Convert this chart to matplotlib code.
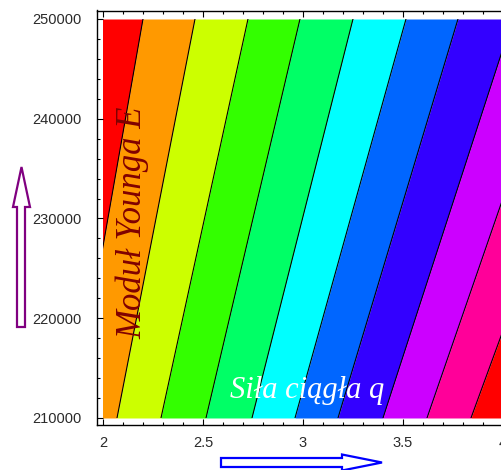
import matplotlib
matplotlib.use('Agg')
import matplotlib.pyplot as plt
from matplotlib.patches import Rectangle, Polygon
from matplotlib.ticker import MultipleLocator

# obszar danych: sila ciagla q (os x), modul Younga E (os y)
E_range = [210000, 250000]
q_range = [2.0, 4.0]

# polozenie poziomic (q) na dolnej krawedzi (E=210000) i gornej (E=250000)
q_at_bottom = [1.849, 2.07, 2.29, 2.515, 2.745, 2.96, 3.175, 3.40, 3.62, 3.84]
q_at_top = [2.20, 2.46, 2.725, 2.985, 3.25, 3.515, 3.775, 4.048, 4.31, 4.571]

band_colors = ['#FF0000', '#FF9900', '#CCFF00', '#33FF00', '#00FF66', '#00FFFF',
               '#0066FF', '#3300FF', '#CC00FF', '#FF0099', '#FF0000']

x_ticks = [2, 2.5, 3, 3.5, 4]
x_labels = ['2', '2.5', '3', '3.5', '4']
y_ticks = [210000, 220000, 230000, 240000, 250000]
y_labels = ['210000', '220000', '230000', '240000', '250000']

W, H = 501, 470
fig = plt.figure(figsize=(W / 100, H / 100), dpi=100)

def fx(x):
    return x / W

def fy(y):
    return 1 - y / H

ax = fig.add_axes([fx(97), fy(425), (509 - 97) / W, (425 - 10.5) / H])
ax.set_xlim(1.97, 4.03)
ax.set_ylim(209298, 250852)

clip = Rectangle((q_range[0], E_range[0]), q_range[1] - q_range[0],
                 E_range[1] - E_range[0], transform=ax.transData)

# pasy miedzy poziomicami
lefts_b = [1.0] + q_at_bottom
lefts_t = [1.0] + q_at_top
rights_b = q_at_bottom + [5.0]
rights_t = q_at_top + [5.0]
for i, c in enumerate(band_colors):
    pc = ax.fill_betweenx(E_range, [lefts_b[i], lefts_t[i]], [rights_b[i], rights_t[i]],
                          color=c, lw=0)
    pc.set_clip_path(clip)

# poziomice
for qb, qt in zip(q_at_bottom, q_at_top):
    ln, = ax.plot([qb, qt], E_range, color='black', lw=0.8)
    ln.set_clip_path(clip)

ax.set_xticks(x_ticks)
ax.set_xticklabels(x_labels)
ax.set_yticks(y_ticks)
ax.set_yticklabels(y_labels)
ax.xaxis.set_minor_locator(MultipleLocator(0.1))
ax.yaxis.set_minor_locator(MultipleLocator(2000))
ax.tick_params(which='both', direction='in', top=True, right=True, width=0.8,
               labelsize=10.5, labelcolor='#2a2a2a')
ax.tick_params(which='major', length=4.5)
ax.tick_params(which='minor', length=2.5)
ax.tick_params(axis='x', pad=8)
ax.tick_params(axis='y', pad=11)
for lab in ax.get_xticklabels() + ax.get_yticklabels():
    lab.set_family('Liberation Sans')
for s in ax.spines.values():
    s.set_linewidth(1.0)

fig.text(fx(141), fy(223), 'Moduł Younga E', rotation=90, color='#800000',
         family='Liberation Serif', style='italic', fontsize=25,
         ha='center', va='baseline', rotation_mode='anchor')
fig.text(fx(230), fy(398), 'Siła ciągła q', color='white',
         family='Liberation Serif', style='italic', fontsize=22,
         ha='left', va='baseline')

# strzalki
up = [(17, 327), (25, 327), (25, 207), (30, 207), (21.5, 167), (13, 207), (17, 207)]
fig.add_artist(Polygon([(fx(a), fy(b)) for a, b in up], closed=True,
                       transform=fig.transFigure, facecolor='white',
                       edgecolor='#800080', lw=1.6))
right = [(221, 458), (342, 458), (342, 454.5), (382, 462.5), (342, 470.5),
         (342, 467), (221, 467)]
fig.add_artist(Polygon([(fx(a), fy(b)) for a, b in right], closed=True,
                       transform=fig.transFigure, facecolor='white',
                       edgecolor='#0000FF', lw=1.6))

fig.savefig('out.png', dpi=100)
